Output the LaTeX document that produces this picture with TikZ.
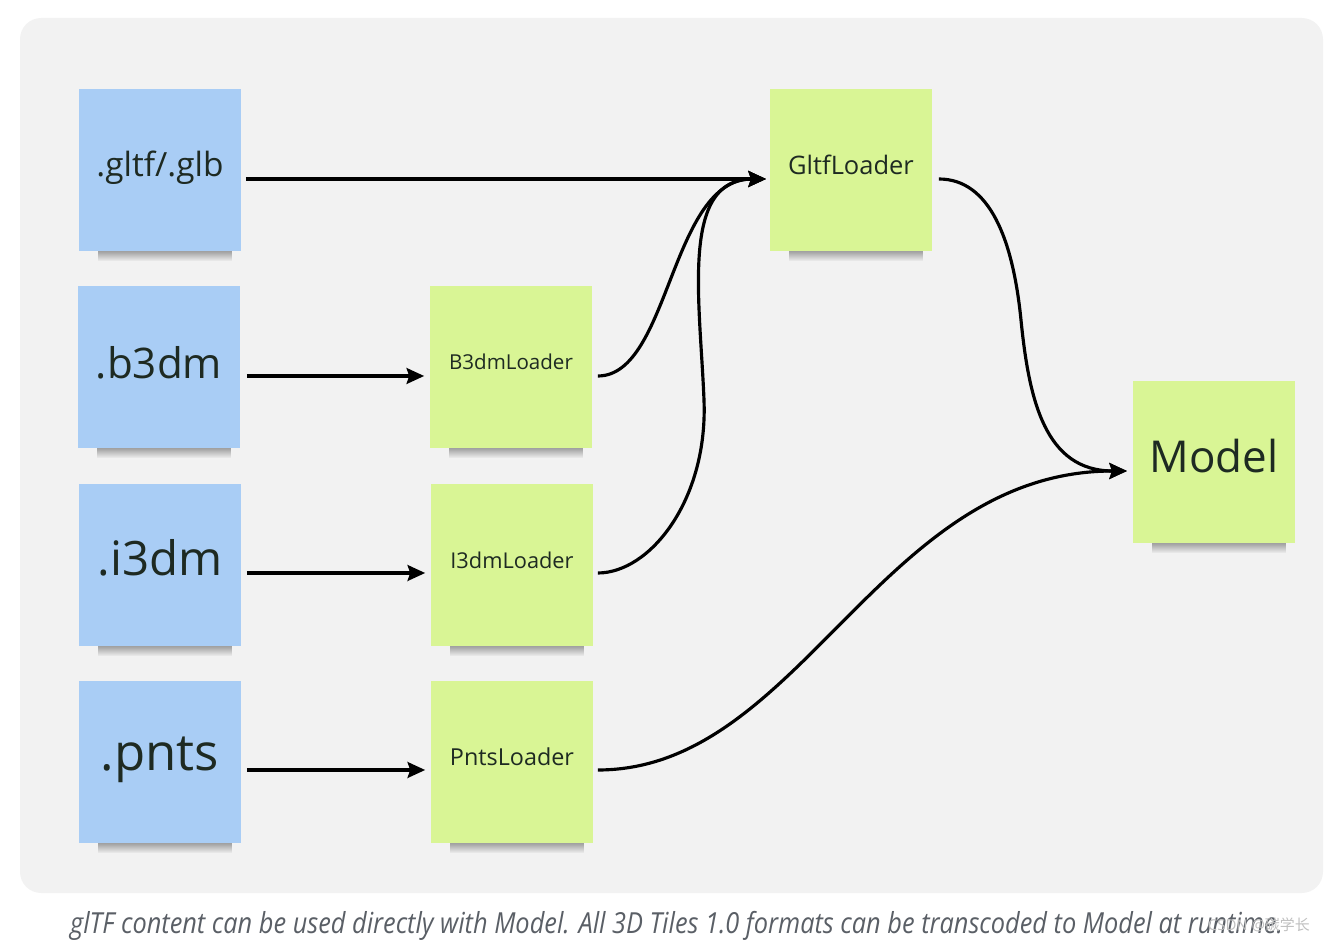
\documentclass[tikz,border=0pt]{standalone}
\usepackage{fontspec}
\setmainfont{Open Sans}
\newfontfamily\cjkfont{Noto Sans CJK SC}
\usepackage{graphicx}
\usetikzlibrary{fadings,arrows.meta}

\definecolor{panelgray}{HTML}{F2F2F2}
\definecolor{noteblue}{HTML}{A9CDF5}
\definecolor{notegreen}{HTML}{D9F595}
\definecolor{notetext}{HTML}{1E2A22}
\definecolor{captiongray}{HTML}{5A5F66}

\tikzset{
  note/.style={minimum width=3.26cm, minimum height=3.24cm, inner sep=0pt, text=notetext, text depth=0.2cm},
  format/.style={note, fill=noteblue},
  loader/.style={note, fill=notegreen},
  noteshadow/.style={fill=black!75, opacity=0.45, path fading=south},
  flow/.style={line width=1.8pt, -{Stealth[length=10pt,width=9pt,inset=1.5pt]}}
}

\begin{document}
\begin{tikzpicture}[x=0.02cm,y=-0.02cm]
        \useasboundingbox (0,0) rectangle (1330,942);
        \fill[panelgray, rounded corners=12] (20,18) rectangle (1323,893);

        \node (gltf) [format, text depth=0.24cm, font=\fontsize{19}{22}\selectfont] at (160,170) {.gltf/.glb};
        \node (bdm) [format, font=\fontsize{24}{28}\selectfont] at (159,367) {.b3dm};
        \node (idm) [format, text depth=0.32cm, font=\fontsize{27}{31}\selectfont] at (160,565) {.i3dm};
        \node (pnts) [format, text depth=0.33cm, font=\fontsize{29}{33}\selectfont] at (160,762) {.pnts};

        \node (bdmload) [loader, font=\fontsize{11.7}{14}\selectfont] at (511,367) {B3dmLoader};
        \node (idmload) [loader, font=\fontsize{12.4}{15}\selectfont] at (512,565) {I3dmLoader};
        \node (pntsload) [loader, font=\fontsize{13.3}{16}\selectfont] at (512,762) {PntsLoader};
        \node (gltfload) [loader, font=\fontsize{14.5}{17}\selectfont] at (851,170) {GltfLoader};
        \node (model) [loader, text depth=0.24cm, font=\fontsize{25}{29}\selectfont] at (1214,462) {Model};

        \foreach \n in {gltf,bdm,idm,pnts,bdmload,idmload,pntsload,gltfload,model}
          \fill[noteshadow] ([xshift=0.4cm]\n.south west) rectangle ([xshift=-0.2cm,yshift=-0.2cm]\n.south east);

        \coordinate (gltfin) at (766,179);
        \coordinate (modelin) at (1127,471);

        \draw[flow] (gltf.east) ++(4,9) -- (gltfin);
        \draw[flow] ([xshift=0.12cm,yshift=-0.18cm]bdm.east) -- ([xshift=-0.1cm,yshift=-0.18cm]bdmload.west);
        \draw[flow] ([xshift=0.1cm,yshift=-0.16cm]idm.east) -- ([xshift=-0.1cm,yshift=-0.16cm]idmload.west);
        \draw[flow] ([xshift=0.1cm,yshift=-0.16cm]pnts.east) -- ([xshift=-0.1cm,yshift=-0.16cm]pntsload.west);

        \draw[flow] ([xshift=0.1cm,yshift=-0.18cm]bdmload.east) .. controls (670,376) and (670,179) .. (gltfin);
        \draw[flow] ([xshift=0.08cm,yshift=-0.16cm]idmload.east) .. controls (650,573) and (708,500) .. (704,400)
          .. controls (700,300) and (680,179) .. (gltfin);
        \draw[flow] ([xshift=0.12cm,yshift=-0.18cm]gltfload.east) .. controls (990,179) and (1013,240) .. (1021,320)
          .. controls (1029,400) and (1045,471) .. (modelin);
        \draw[flow] ([xshift=0.08cm,yshift=-0.16cm]pntsload.east) .. controls (800,770) and (880,471) .. (modelin);

        \node (caption) [text=captiongray, font=\itshape\fontsize{16.5}{20}\selectfont, anchor=west] at (64,926)
          {\resizebox{24.26cm}{\height}{glTF content can be used directly with Model. All 3D Tiles 1.0 formats can be transcoded to Model at runtime.}};
        \node (mark) [text=gray!50, font=\fontsize{8.5}{10}\selectfont, anchor=east] at (1316,925) {CSDN @{\cjkfont 碳学长}};
\end{tikzpicture}
\end{document}
